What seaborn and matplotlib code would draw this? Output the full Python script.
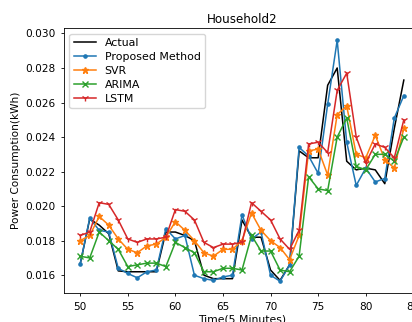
import matplotlib
matplotlib.use("Agg")
import matplotlib.pyplot as plt
import seaborn as sns
import pandas as pd
import numpy as np

time = list(range(50, 85))

actual = [0.01665, 0.01925, 0.0189, 0.0184, 0.01625, 0.0162, 0.0162, 0.0162, 0.0162, 0.0185,
          0.0185, 0.0183, 0.0180, 0.0160, 0.0158, 0.0158, 0.0158, 0.0192, 0.0182, 0.0182,
          0.0163, 0.0157, 0.0166, 0.0232, 0.0228, 0.0228, 0.0270, 0.0280, 0.0226, 0.0221,
          0.0222, 0.0221, 0.0213, 0.0245, 0.0273]
proposed = [0.01665, 0.0193, 0.0186, 0.0185, 0.0164, 0.0161, 0.01585, 0.0162, 0.0163, 0.0187,
            0.0181, 0.0183, 0.0160, 0.0158, 0.0157, 0.0159, 0.0160, 0.0195, 0.0181, 0.0185,
            0.0160, 0.01565, 0.0166, 0.0234, 0.0229, 0.0219, 0.0259, 0.0296, 0.0237, 0.0212,
            0.0222, 0.0214, 0.0216, 0.0251, 0.0264]
svr = [0.0180, 0.0183, 0.0194, 0.0189, 0.0181, 0.0175, 0.0173, 0.0177, 0.0178, 0.0182,
       0.0191, 0.0186, 0.0180, 0.0173, 0.0171, 0.0175, 0.0175, 0.0180, 0.0196, 0.0186,
       0.0180, 0.0176, 0.0169, 0.0183, 0.0232, 0.0233, 0.0218, 0.0253, 0.0258, 0.0230,
       0.0228, 0.0241, 0.0227, 0.0222, 0.0245]
arima = [0.0171, 0.0170, 0.0185, 0.0180, 0.0175, 0.0165, 0.0166, 0.0167, 0.0167, 0.0165,
         0.0179, 0.0176, 0.0173, 0.0162, 0.0162, 0.0164, 0.0164, 0.0163, 0.0183, 0.0174,
         0.0174, 0.0163, 0.0162, 0.0171, 0.0217, 0.0210, 0.0209, 0.0240, 0.0251, 0.0223,
         0.0221, 0.0230, 0.0230, 0.0226, 0.0240]
lstm = [0.0183, 0.0185, 0.0202, 0.0201, 0.0192, 0.0181, 0.0179, 0.0181, 0.0181, 0.0182,
        0.0198, 0.0197, 0.0192, 0.0179, 0.0176, 0.0178, 0.0178, 0.0179, 0.0202, 0.0197,
        0.0192, 0.0181, 0.0175, 0.0186, 0.0236, 0.0237, 0.0231, 0.0267, 0.0277, 0.0240,
        0.0225, 0.0236, 0.0234, 0.0228, 0.0250]

series_names = ["Actual", "Proposed Method", "SVR", "ARIMA", "LSTM"]
series_values = [actual, proposed, svr, arima, lstm]
colors = ["black", "#1f77b4", "#ff7f0e", "#2ca02c", "#d62728"]
markers = ["None", ".", "*", "x", "1"]

plt.rcParams["font.family"] = ["DejaVu Sans"]
plt.rcParams["font.size"] = 7.6

fig = plt.figure(figsize=(4.12, 3.22), dpi=100)
ax = fig.add_axes([64 / 412, (322 - 293.3) / 322, (420 - 64) / 412, 265 / 322])

for name, vals, c, m in zip(series_names, series_values, colors, markers):
    df = pd.DataFrame({"time": time, "value": vals})
    sns.lineplot(data=df, x="time", y="value", ax=ax, color=c, label=name, linewidth=1.1)
    ln = ax.lines[-1]
    ln.set_linestyle("-")
    ln.set_marker(m)
    ln.set_markersize(4.6)
    ln.set_markeredgewidth(1.0)
    ln.set_markerfacecolor(c)
    ln.set_markeredgecolor(c)

ax.set_xticks([50, 55, 60, 65, 70, 75, 80, 85])
ax.set_yticks([0.016, 0.018, 0.020, 0.022, 0.024, 0.026, 0.028, 0.030])
ax.yaxis.set_major_formatter(matplotlib.ticker.FormatStrFormatter("%.3f"))
ax.tick_params(labelsize=7.6, length=2.5, width=0.6)
for s in ax.spines.values():
    s.set_linewidth(0.6)
ax.set_title("Household2", fontsize=8.6, pad=4)
ax.set_xlabel("Time(5 Minutes)", fontsize=7.8, labelpad=2)
ax.set_ylabel("Power Consumption(kWh)", fontsize=7.6, labelpad=3)
ax.legend(loc="upper left", fontsize=7.9, frameon=True, fancybox=True,
          borderpad=0.4, labelspacing=0.35, handlelength=2.0)

fig.savefig("out.png", dpi=100)
